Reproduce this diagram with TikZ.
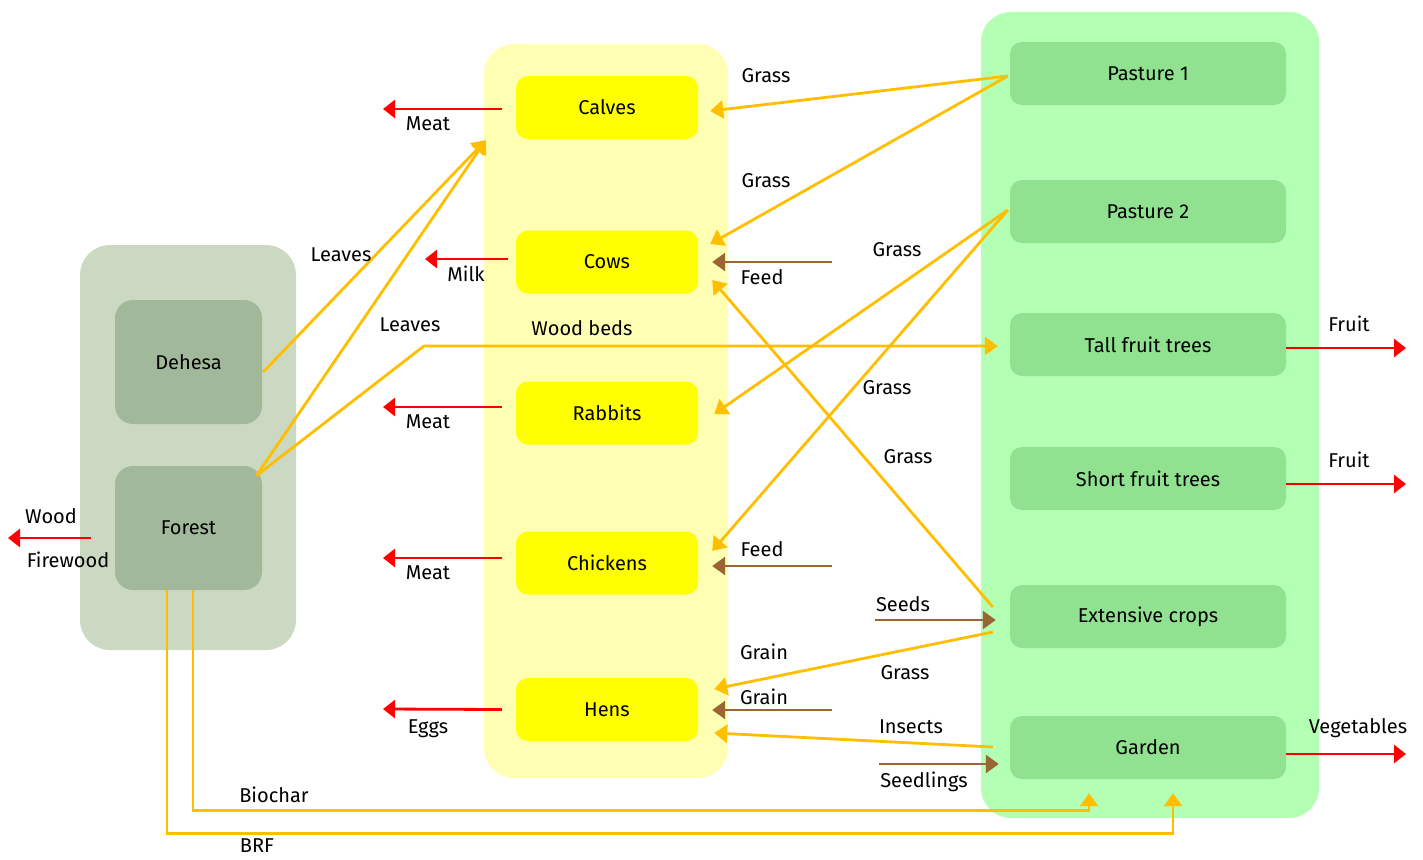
\documentclass[tikz,border=0pt]{standalone}
\usepackage{fontspec}
\setmainfont{Fira Sans}
\usetikzlibrary{arrows.meta}

\definecolor{woodbg}{HTML}{CCD9C2}
\definecolor{woodfg}{HTML}{A1B89B}
\definecolor{animalbg}{HTML}{FFFFB3}
\definecolor{animalfg}{HTML}{FFFF00}
\definecolor{cropbg}{HTML}{B3FFB3}
\definecolor{cropfg}{HTML}{90E290}
\definecolor{flowc}{HTML}{FFBF00}
\definecolor{supplyc}{HTML}{996633}

\tikzset{
  area/.style={rectangle, rounded corners=30pt, inner sep=0pt},
  animal/.style={rectangle, rounded corners=12pt, fill=animalfg, minimum width=182pt, minimum height=63pt},
  crop/.style={rectangle, rounded corners=12pt, fill=cropfg, minimum width=276pt, minimum height=63pt},
  wood/.style={rectangle, rounded corners=18pt, fill=woodfg, minimum width=147pt, minimum height=124pt},
  flow/.style={draw=flowc, line width=2.8pt, -{Triangle[length=13pt,width=18pt]}},
  supply/.style={draw=supplyc, line width=2.8pt, -{Triangle[length=13pt,width=18pt]}},
  product/.style={draw=red, line width=2.8pt, -{Triangle[length=12pt,width=18pt]}},
  lbl/.style={inner sep=0pt}
}

\begin{document}
\begin{tikzpicture}[x=1pt, y=-1pt, font=\fontsize{20}{22}\selectfont]
  \useasboundingbox (0,0) rectangle (1423,859);

  % background areas
  \node (woodarea)   [area, fill=woodbg, minimum width=216pt, minimum height=405pt] at (188,447.5) {};
  \node (animalarea) [area, fill=animalbg, minimum width=244pt, minimum height=734pt] at (606,411) {};
  \node (croparea)   [area, fill=cropbg, minimum width=338pt, minimum height=806pt] at (1150,415) {};

  \node (dehesa) [wood] at (188.5,362) {Dehesa};
  \node (forest) [wood] at (188.5,528) {Forest};

  \node (calves)   [animal] at (607,107.5) {Calves};
  \node (cows)     [animal] at (607,262)   {Cows};
  \node (rabbits)  [animal] at (607,413)   {Rabbits};
  \node (chickens) [animal] at (607,563)   {Chickens};
  \node (hens)     [animal] at (607,709.5) {Hens};

  \node (past1)  [crop] at (1148,73.5)  {Pasture 1};
  \node (past2)  [crop] at (1148,211.5) {Pasture 2};
  \node (tall)   [crop] at (1148,344.5) {Tall fruit trees};
  \node (short)  [crop] at (1148,478.5) {Short fruit trees};
  \node (ext)    [crop] at (1148,616.5) {Extensive crops};
  \node (garden) [crop] at (1148,747.5) {Garden};

  % free ends
  \coordinate (calvesout)  at (383,109);
  \coordinate (cowsout)    at (425,259);
  \coordinate (rabbitsout) at (383,407);
  \coordinate (chickout)   at (383,558);
  \coordinate (hensout)    at (383,709);
  \coordinate (forestout)  at (8,538);
  \coordinate (tallout)    at (1406,348);
  \coordinate (shortout)   at (1406,484);
  \coordinate (gardenout)  at (1406,754);
  \coordinate (cowfeed)    at (832,262);
  \coordinate (chickfeed)  at (832,566);
  \coordinate (seedsin)    at (875,620);
  \coordinate (hensgrain)  at (832,710);
  \coordinate (seedlin)    at (879,764);
  \coordinate (lvbend)     at (424,346);

  % products
  \draw[product] ([shift={(-14,1.5)}]calves.west)  -- (calvesout);
  \draw[product] ([shift={(-8,-3)}]cows.west)      -- (cowsout);
  \draw[product] ([shift={(-14,-6)}]rabbits.west)  -- (rabbitsout);
  \draw[product] ([shift={(-14,-5)}]chickens.west) -- (chickout);
  \draw[product] ([shift={(-14,0)}]hens.west)      -- (hensout);
  \draw[product] ([shift={(-24,10)}]forest.west)   -- (forestout);
  \draw[product] ([shift={(0,3.5)}]tall.east)      -- (tallout);
  \draw[product] ([shift={(0,5.5)}]short.east)     -- (shortout);
  \draw[product] ([shift={(0,6.5)}]garden.east)    -- (gardenout);

  % inputs
  \draw[supply] (cowfeed)   -- ([shift={(14,0)}]cows.east);
  \draw[supply] (chickfeed) -- ([shift={(14,3)}]chickens.east);
  \draw[supply] (seedsin)   -- ([shift={(-14,3.5)}]ext.west);
  \draw[supply] (hensgrain) -- ([shift={(14,0.5)}]hens.east);
  \draw[supply] (seedlin)   -- ([shift={(-11,16.5)}]garden.west);

  % flows between areas
  \draw[flow] ([shift={(-2,2.5)}]past1.west) -- ([shift={(12,3.5)}]calves.east);
  \draw[flow] ([shift={(-2,2.5)}]past1.west) -- ([shift={(12,-18)}]cows.east);
  \draw[flow] ([shift={(-2,-1.5)}]past2.west) -- ([shift={(16,1)}]rabbits.east);
  \draw[flow] ([shift={(-2,-1.5)}]past2.west) -- ([shift={(14,-12)}]chickens.east);
  \draw[flow] ([shift={(-17,-9.5)}]ext.west) -- ([shift={(14,18)}]cows.east);
  \draw[flow] ([shift={(-17,15.5)}]ext.west) -- ([shift={(16,-20.5)}]hens.east);
  \draw[flow] ([shift={(-17,-0.5)}]garden.west) -- ([shift={(16,23.5)}]hens.east);
  \draw[flow] ([shift={(1,10)}]dehesa.east) -- ([shift={(-30,1)}]calves.south west);
  \draw[flow] ([shift={(-6,10)}]forest.north east) -- ([shift={(-30,1)}]calves.south west);
  \draw[flow] ([shift={(-6,10)}]forest.north east) -- (lvbend) -- ([shift={(-12,1.5)}]tall.west);
  \draw[flow] ([shift={(4.5,0)}]forest.south) |- ([shift={(-59,31)}]garden.south) -- ([shift={(-59,14)}]garden.south);
  \draw[flow] ([shift={(-21.5,0)}]forest.south) |- ([shift={(25,54)}]garden.south) -- ([shift={(25,14)}]garden.south);

  % labels
  \node (lmeat1)   [lbl] at (428,124) {Meat};
  \node (lmilk)    [lbl] at (466,274) {Milk};
  \node (lmeat2)   [lbl] at (428,422) {Meat};
  \node (lmeat3)   [lbl] at (428,573) {Meat};
  \node (leggs)    [lbl] at (428,729) {Eggs};
  \node (lwood)    [lbl] at (51,516)  {Wood};
  \node (lfire)    [lbl] at (68,560)  {Firewood};
  \node (lfruit1)  [lbl] at (1349,324) {Fruit};
  \node (lfruit2)  [lbl] at (1349,460) {Fruit};
  \node (lveg)     [lbl] at (1358,728) {Vegetables};
  \node (lgrass1)  [lbl] at (766,76)  {Grass};
  \node (lgrass2)  [lbl] at (766,181) {Grass};
  \node (lgrass3)  [lbl] at (897,250) {Grass};
  \node (lfeed1)   [lbl] at (762,277) {Feed};
  \node (lgrass4)  [lbl] at (887,388) {Grass};
  \node (lgrass5)  [lbl] at (908,457) {Grass};
  \node (lfeed2)   [lbl] at (762,549) {Feed};
  \node (lseeds)   [lbl] at (903,604) {Seeds};
  \node (lgrain1)  [lbl] at (764,652) {Grain};
  \node (lgrass6)  [lbl] at (905,673) {Grass};
  \node (lgrain2)  [lbl] at (764,697) {Grain};
  \node (linsects) [lbl] at (911,727) {Insects};
  \node (lseedl)   [lbl] at (924,782) {Seedlings};
  \node (lleaves1) [lbl] at (341,255) {Leaves};
  \node (lleaves2) [lbl] at (410,325) {Leaves};
  \node (lbeds)    [lbl] at (582,328) {Wood beds};
  \node (lbiochar) [lbl] at (274,795) {Biochar};
  \node (lbrf)     [lbl] at (257,846) {BRF};
\end{tikzpicture}
\end{document}
